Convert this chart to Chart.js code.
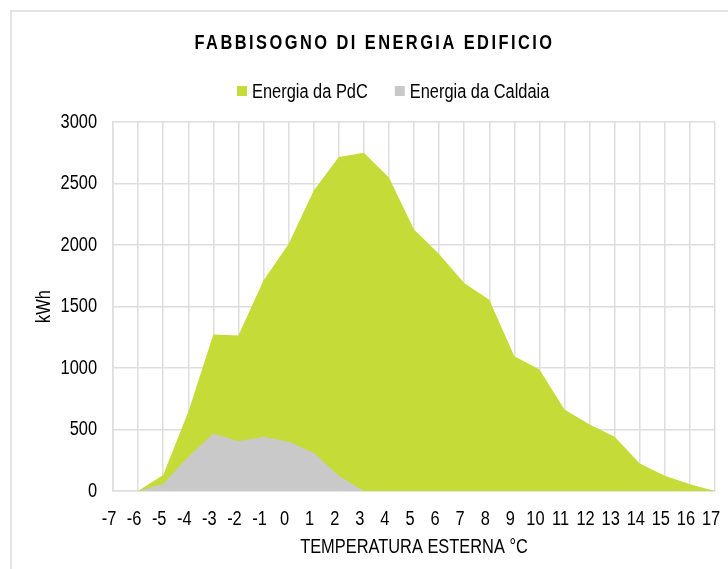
<!DOCTYPE html>
<html>
<head>
<meta charset="utf-8">
<script src="https://cdn.jsdelivr.net/npm/chart.js@4/dist/chart.umd.min.js"></script>
<style>
  html, body { margin: 0; padding: 0; background: #fff; overflow: hidden; }
  #wrap { position: relative; width: 728px; height: 569px; }
  #frame { position: absolute; left: 10px; top: 10px; width: 800px; height: 700px; border: 2px solid #e3e3e3; box-sizing: border-box; }
  canvas { position: absolute; left: 0; top: 0; }
</style>
</head>
<body>
<div id="wrap">
  <div id="frame"></div>
  <canvas id="c" width="728" height="569"></canvas>
</div>
<script>
const temperatures = ['-7','-6','-5','-4','-3','-2','-1','0','1','2','3','4','5','6','7','8','9','10','11','12','13','14','15','16','17'];
const energiaPdC = [null, 0, 130, 643, 1273, 1265, 1711, 2008, 2441, 2716, 2751, 2549, 2126, 1927, 1692, 1554, 1095, 987, 662, 541, 441, 224, 124, 54, 0];
const energiaCaldaia = [null, 0, 57, 278, 468, 405, 441, 400, 311, 124, 0, 0, 0, 0, 0, 0, 0, 0, 0, 0, 0, 0, 0, 0, 0];
const yTicks = [0, 500, 1000, 1500, 2000, 2500, 3000];

const FONT = '"Liberation Sans", Arial, sans-serif';
const GRID = '#dedede';
const SX = 0.82; // horizontal squeeze to imitate a narrow sans

const canvas = document.getElementById('c');
const ctx2d = canvas.getContext('2d');
const origFill = ctx2d.fillText.bind(ctx2d);
const origMeasure = ctx2d.measureText.bind(ctx2d);
ctx2d.fillText = function (t, x, y, mw) {
  this.save();
  this.translate(x, y);
  this.scale(SX, 1);
  if (mw !== undefined && mw !== null) origFill(t, 0, 0, mw / SX); else origFill(t, 0, 0);
  this.restore();
};
ctx2d.measureText = function (t) {
  const m = origMeasure(t);
  return {
    width: m.width * SX,
    actualBoundingBoxAscent: m.actualBoundingBoxAscent,
    actualBoundingBoxDescent: m.actualBoundingBoxDescent,
    actualBoundingBoxLeft: m.actualBoundingBoxLeft * SX,
    actualBoundingBoxRight: m.actualBoundingBoxRight * SX,
    fontBoundingBoxAscent: m.fontBoundingBoxAscent,
    fontBoundingBoxDescent: m.fontBoundingBoxDescent
  };
};

const spacedTitle = {
  id: 'spacedTitle',
  beforeDraw(chart) {
    const t = chart.titleBlock;
    if (t && !t._spaced) {
      const d = t.draw.bind(t);
      t.draw = function () {
        const c = chart.ctx;
        c.save();
        c.translate(5, 0);
        c.letterSpacing = '3px';
        d();
        c.restore();
      };
      t._spaced = true;
    }
  }
};

// Legend drawn from the datasets (labels + colours), Excel-like spacing
const excelLegend = {
  id: 'excelLegend',
  afterDraw(chart, args, opts) {
    const c = chart.ctx;
    c.save();
    c.font = '20px ' + FONT;
    c.textAlign = 'left';
    c.textBaseline = 'middle';
    let x = opts.x;
    const y = opts.y;
    chart.data.datasets.forEach(ds => {
      c.fillStyle = ds.backgroundColor;
      c.fillRect(x, y - 5, 10, 10);
      x += 10 + opts.gap;
      c.fillStyle = '#000';
      c.fillText(ds.label, x, y + 1);
      x += c.measureText(ds.label).width + opts.spacing;
    });
    c.restore();
  }
};

new Chart(canvas, {
  type: 'line',
  data: {
    labels: temperatures,
    datasets: [
      {
        label: 'Energia da PdC',
        data: energiaPdC,
        backgroundColor: '#c5db38',
        borderColor: '#c5db38',
        borderWidth: 0,
        fill: 'origin',
        pointRadius: 0,
        tension: 0,
        order: 2
      },
      {
        label: 'Energia da Caldaia',
        data: energiaCaldaia,
        backgroundColor: '#c9c9c9',
        borderColor: '#c9c9c9',
        borderWidth: 0,
        fill: 'origin',
        pointRadius: 0,
        tension: 0,
        order: 1
      }
    ]
  },
  options: {
    responsive: false,
    animation: false,
    events: [],
    layout: { padding: { left: 24, right: 13, top: 0, bottom: 0 } },
    plugins: {
      title: {
        display: true,
        text: 'FABBISOGNO DI ENERGIA EDIFICIO',
        color: '#000',
        font: { family: FONT, size: 20, weight: 'bold' },
        padding: { top: 31, bottom: 67 }
      },
      legend: { display: false },
      excelLegend: { x: 237, y: 91, gap: 5, spacing: 27 },
      tooltip: { enabled: false }
    },
    scales: {
      x: {
        type: 'category',
        offset: false,
        grid: { color: GRID, lineWidth: 1.5, drawTicks: false, offset: false },
        border: { display: true, color: GRID, width: 1.5 },
        ticks: {
          color: '#000',
          font: { family: FONT, size: 20 },
          autoSkip: false,
          maxRotation: 0,
          minRotation: 0,
          padding: 16,
          labelOffset: -4
        },
        title: {
          display: true,
          text: 'TEMPERATURA ESTERNA °C',
          color: '#000',
          font: { family: FONT, size: 20 },
          padding: { top: 4, bottom: 10 }
        },
        afterFit(scale) {
          scale.height = 569 - 491;
          scale.paddingRight = 0;
          scale.paddingLeft = 0;
        }
      },
      y: {
        min: 0,
        max: 3000,
        grid: { color: GRID, lineWidth: 1.5, drawTicks: false },
        border: { display: true, color: GRID, width: 1.5 },
        afterBuildTicks(scale) { scale.ticks = yTicks.map(v => ({ value: v })); },
        ticks: {
          color: '#000',
          font: { family: FONT, size: 20 },
          padding: 16,
          callback: v => String(v)
        },
        title: {
          display: true,
          text: 'kWh',
          color: '#000',
          font: { family: FONT, size: 20 },
          padding: { top: 8, bottom: 6 }
        },
        afterFit(scale) { scale.width = 113 - 24; }
      }
    }
  },
  plugins: [spacedTitle, excelLegend]
});
</script>
</body>
</html>
